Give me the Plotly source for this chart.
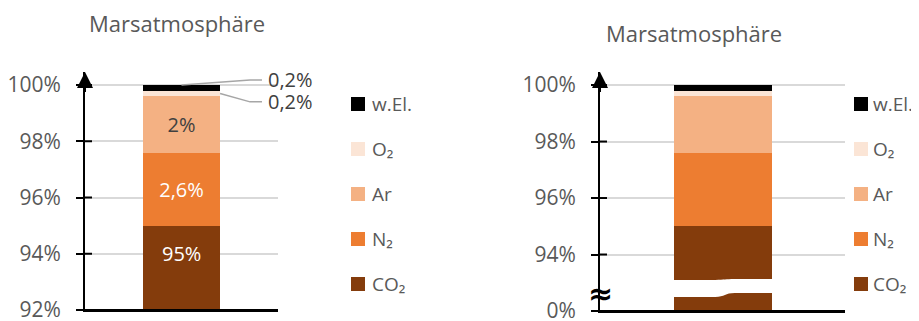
import plotly.graph_objects as go

# ---------------- data ----------------
series = ["CO₂", "N₂", "Ar", "O₂", "w.El."]
values = [95, 2.6, 2, 0.2, 0.2]
labels = ["95%", "2,6%", "2%", "0,2%", "0,2%"]
colors = ["#843C0C", "#ED7D31", "#F4B183", "#FBE5D6", "#000000"]
label_colors = ["#FFFFFF", "#FFFFFF", "#404040", "#404040", "#404040"]
bar_x = [0]
tick_vals = [92, 94, 96, 98, 100]
left_ticktext = ["92%", "94%", "96%", "98%", "100%"]
right_ticktext = ["0%", "94%", "96%", "98%", "100%"]
title_text = "Marsatmosphäre"

# ---------------- layout constants ----------------
OFF = 8                      # default page body margin
W, H = 919 - OFF, 321 - OFF
FONT = "Open Sans"
GREY = "#595959"
YMIN, YMAX = 92, 100
PX_PER_UNIT = 225 / (YMAX - YMIN)
YTOP = YMAX + 13 / PX_PER_UNIT   # room for the axis arrow


def px_x(p):
    return (p - OFF) / W


def px_y(p):
    return 1 - (p - OFF) / H


fig = go.Figure()

for i, (name, v, c) in enumerate(zip(series, values, colors)):
    inside = i in (1, 2)
    fig.add_trace(go.Bar(
        x=bar_x, y=[v], name=name, marker=dict(color=c, line=dict(width=0)),
        width=0.4, xaxis="x", yaxis="y", showlegend=False,
        text=[labels[i]] if inside else None,
        textposition="inside" if inside else "none",
        insidetextanchor="middle", textangle=0,
        insidetextfont=dict(family=FONT, size=20, color=label_colors[i]),
        hoverinfo="skip",
    ))
    fig.add_trace(go.Bar(
        x=bar_x, y=[v], name=name, marker=dict(color=c, line=dict(width=0)),
        width=0.4, xaxis="x2", yaxis="y2", showlegend=False, hoverinfo="skip",
    ))

axis_common = dict(range=[YMIN, YTOP], tickvals=tick_vals, showgrid=True,
                   gridcolor="#D9D9D9", gridwidth=1.5, showline=True,
                   linecolor="#000000", linewidth=2, ticks="outside", ticklen=7,
                   tickwidth=2, tickcolor="#000000", zeroline=False,
                   tickfont=dict(family=FONT, size=21, color=GREY),
                   ticklabelstandoff=11, ticklabeloverflow="allow",
                   automargin=False, fixedrange=True)
xaxis_common = dict(range=[-0.5, 0.5], showticklabels=False, showgrid=False,
                    zeroline=False, showline=True, linecolor="#000000",
                    linewidth=2, ticks="", fixedrange=True)

fig.update_layout(
    width=W, height=H, margin=dict(l=0, r=0, t=0, b=0, autoexpand=False),
    paper_bgcolor="white", plot_bgcolor="white", barmode="stack",
    font=dict(family=FONT, color=GREY),
    xaxis=dict(domain=[px_x(85), px_x(278)], anchor="y", **xaxis_common),
    yaxis=dict(domain=[px_y(310), px_y(72)], anchor="x",
               ticktext=left_ticktext, **axis_common),
    xaxis2=dict(domain=[px_x(600), px_x(845)], anchor="y2", **xaxis_common),
    yaxis2=dict(domain=[px_y(311), px_y(72)], anchor="x2",
                ticktext=right_ticktext, **axis_common),
)

shapes = []
annotations = []

# inner half of the cross ticks, bottom axis line, axis arrows
for xr, yr in (("x", "y"), ("x2", "y2")):
    for tv in tick_vals[1:]:
        shapes.append(dict(type="line", xref=xr, yref=yr, xsizemode="pixel",
                           xanchor=-0.5, x0=0, x1=7, y0=tv, y1=tv,
                           line=dict(color="#000000", width=2)))
    shapes.append(dict(type="line", xref=xr + " domain", yref=yr, x0=0, x1=1,
                       y0=YMIN, y1=YMIN, layer="above",
                       line=dict(color="#000000", width=2)))
    annotations.append(dict(xref=xr, yref=yr, x=-0.5, y=YTOP,
                            axref=xr, ayref=yr, ax=-0.5, ay=YMAX - 0.3,
                            text="", showarrow=True, arrowhead=2, arrowsize=1.6,
                            arrowwidth=2, arrowcolor="#000000", standoff=0))

# titles
for tx, ty in ((177, 23), (694, 33)):
    annotations.append(dict(xref="paper", yref="paper", x=px_x(tx), y=px_y(ty),
                            xanchor="center", yanchor="middle",
                            text=title_text, showarrow=False,
                            font=dict(family=FONT, size=22, color=GREY)))

# CO2 label (bar base lies below the visible range)
annotations.append(dict(xref="x", yref="y", x=bar_x[0], y=values[0] - 1,
                        xanchor="center", yanchor="middle", text=labels[0],
                        showarrow=False, font=dict(family=FONT, size=20, color=label_colors[0])))

# leader-line labels for the two small components (left chart)
tops = [sum(values[:i + 1]) for i in range(len(values))]
wel_top = tops[4]
o2_mid = tops[3] - values[3] / 2
y_lab1 = wel_top + 0.18
y_lab2 = wel_top - 0.6
shapes.append(dict(type="path", xref="x", yref="y",
                   path=f"M 0,{wel_top} L 0.355,{y_lab1} L 0.417,{y_lab1}",
                   line=dict(color="#A6A6A6", width=1.5)))
shapes.append(dict(type="path", xref="x", yref="y",
                   path=f"M 0.2,{o2_mid} L 0.355,{y_lab2} L 0.417,{y_lab2}",
                   line=dict(color="#A6A6A6", width=1.5)))
for yl, lab in ((y_lab1, labels[4]), (y_lab2, labels[3])):
    annotations.append(dict(xref="x", yref="y", x=0.44, y=yl,
                            xanchor="left", yanchor="middle", text=lab,
                            showarrow=False, font=dict(family=FONT, size=20, color="#404040")))

# axis break on right chart
b_hi_l, b_hi_r, b_lo_l, b_lo_r = 93.10, 93.13, 92.50, 92.64
shapes.append(dict(
    type="path", xref="x2", yref="y2", fillcolor="white", line=dict(width=0),
    path=(f"M -0.21,{b_hi_l} L -0.03,{b_hi_l} C 0.01,{b_hi_l} 0.01,{b_hi_r} 0.05,{b_hi_r} "
          f"L 0.21,{b_hi_r} L 0.21,{b_lo_r} L 0.05,{b_lo_r} "
          f"C 0.01,{b_lo_r} 0.01,{b_lo_l} -0.03,{b_lo_l} L -0.21,{b_lo_l} Z")))
annotations.append(dict(xref="x2", yref="y2", x=-0.5, y=92.62, text="<b>≈</b>",
                        xanchor="center", yanchor="middle",
                        showarrow=False, font=dict(family="DejaVu Sans", size=30, color="#000000")))

# manual legends
for lx, tw in ((351, 370), (854, 871)):
    for k, idx in enumerate(range(len(series) - 1, -1, -1)):
        cy = 104 + 45 * k
        shapes.append(dict(type="rect", xref="paper", yref="paper",
                           x0=px_x(lx), x1=px_x(lx + 14),
                           y0=px_y(cy + 7), y1=px_y(cy - 7),
                           fillcolor=colors[idx], line=dict(width=0)))
        annotations.append(dict(xref="paper", yref="paper", x=px_x(tw), y=px_y(cy),
                                xanchor="left", yanchor="middle", text=series[idx],
                                showarrow=False, font=dict(family=FONT, size=19, color=GREY)))

fig.update_layout(shapes=shapes, annotations=annotations)
fig.write_html("out.html")
